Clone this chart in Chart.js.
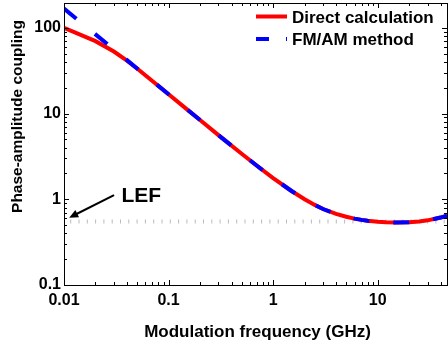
<!DOCTYPE html>
<html>
<head>
<meta charset="utf-8">
<script src="https://cdn.jsdelivr.net/npm/chart.js@4"></script>
<style>
  html, body { margin: 0; padding: 0; background: #fff; }
  #wrap { width: 448px; height: 345px; }
</style>
</head>
<body>
<div id="wrap"><canvas id="chart" width="448" height="345"></canvas></div>
<script>
// ---- data ----
const freq = [0.01, 0.02, 0.03, 0.04, 0.05, 0.07, 0.1, 0.15, 0.2, 0.3, 0.5, 0.7, 1, 1.5, 2, 2.5, 3, 4, 5, 6, 7, 8, 10, 12, 15, 20, 25, 30, 40, 46];
const direct = [100, 70, 53, 41.5, 33.6, 24, 16.8, 11.2, 8.4, 5.6, 3.4, 2.46, 1.77, 1.25, 1.0, 0.86, 0.77, 0.675, 0.625, 0.595, 0.575, 0.562, 0.547, 0.539, 0.535, 0.538, 0.551, 0.568, 0.612, 0.645];
const fmam = [168, 84, 56, 42, 33.6, 24, 16.8, 11.2, 8.4, 5.6, 3.4, 2.46, 1.77, 1.25, 1.0, 0.86, 0.77, 0.675, 0.625, 0.595, 0.575, 0.562, 0.547, 0.539, 0.535, 0.538, 0.551, 0.568, 0.612, 0.645];
const lefFreq = [0.01, 46];
const lefValue = [0.55, 0.55];
const xTickLabels = ['0.01', '0.1', '1', '10'];
const yTickLabels = ['0.1', '1', '10', '100'];
const seriesNames = ['Direct calculation', 'FM/AM method'];

const FONT = "'Liberation Sans', Arial, sans-serif";

function toPoints(xs, ys) {
    return xs.map((x, i) => ({ x: x, y: ys[i] }));
}

function labelFor(list) {
    return function(value) {
        const s = String(value);
        return list.indexOf(s) >= 0 ? s : null;
    };
}

// minor/major values for a log axis between min and max
function logTickValues(min, max) {
    const out = [];
    for (let e = Math.floor(Math.log10(min)); e <= Math.ceil(Math.log10(max)); e++) {
        for (let m = 1; m <= 9; m++) {
            const v = m * Math.pow(10, e);
            if (v >= min * 0.999 && v <= max * 1.001) out.push({ v: v, major: m === 1 });
        }
    }
    return out;
}

// frame, inward ticks, titles, legend and the LEF arrow
const decorPlugin = {
    id: 'decor',
    afterDatasetsDraw(chart) {
        const ctx = chart.ctx;
        const a = chart.chartArea;
        const xs = chart.scales.x;
        const ys = chart.scales.y;
        ctx.save();

        // box
        ctx.strokeStyle = '#000';
        ctx.lineWidth = 1;
        ctx.strokeRect(a.left + 0.5, a.top + 0.5, a.right - a.left, a.bottom - a.top);

        // ticks pointing inside
        ctx.beginPath();
        logTickValues(xs.min, xs.max).forEach(t => {
            const px = Math.round(xs.getPixelForValue(t.v)) + 0.5;
            const len = t.major ? 5 : 3;
            ctx.moveTo(px, a.bottom); ctx.lineTo(px, a.bottom - len);
            ctx.moveTo(px, a.top); ctx.lineTo(px, a.top + len);
        });
        logTickValues(ys.min, ys.max).forEach(t => {
            const py = Math.round(ys.getPixelForValue(t.v)) + 0.5;
            const len = t.major ? 5 : 3;
            ctx.moveTo(a.left, py); ctx.lineTo(a.left + len, py);
            ctx.moveTo(a.right, py); ctx.lineTo(a.right - len, py);
        });
        ctx.stroke();

        // axis titles
        ctx.fillStyle = '#000';
        ctx.font = 'bold 17px ' + FONT;
        ctx.textAlign = 'center';
        ctx.textBaseline = 'alphabetic';
        ctx.fillText('Modulation frequency (GHz)', 257.5, 336.5);

        ctx.save();
        ctx.translate(21.5, 116.5);
        ctx.rotate(-Math.PI / 2);
        ctx.font = 'bold 15.5px ' + FONT;
        ctx.fillText('Phase-amplitude coupling', 0, 0);
        ctx.restore();

        // legend
        ctx.textAlign = 'left';
        ctx.font = 'bold 17px ' + FONT;
        ctx.lineWidth = 4;
        ctx.lineCap = 'butt';
        ctx.strokeStyle = '#ff0000';
        ctx.beginPath(); ctx.moveTo(256, 16.5); ctx.lineTo(287, 16.5); ctx.stroke();
        ctx.fillText(seriesNames[0], 292, 22.5);
        ctx.strokeStyle = '#0000ff';
        ctx.setLineDash([13, 17]);
        ctx.beginPath(); ctx.moveTo(256, 39); ctx.lineTo(287, 39); ctx.stroke();
        ctx.setLineDash([]);
        ctx.fillText(seriesNames[1], 292, 44.5);

        // LEF label and arrow
        ctx.font = 'bold 21px ' + FONT;
        ctx.fillText('LEF', 121.5, 201.5);
        const x0 = xs.getPixelForValue(0.0301), y0 = ys.getPixelForValue(1.12);
        const x1 = xs.getPixelForValue(0.0112), y1 = ys.getPixelForValue(0.61);
        const ang = Math.atan2(y1 - y0, x1 - x0);
        ctx.strokeStyle = '#000';
        ctx.lineWidth = 2;
        ctx.beginPath();
        ctx.moveTo(x0, y0);
        ctx.lineTo(x1 - 6 * Math.cos(ang), y1 - 6 * Math.sin(ang));
        ctx.stroke();
        ctx.fillStyle = '#000';
        ctx.beginPath();
        ctx.moveTo(x1, y1);
        ctx.lineTo(x1 - 9 * Math.cos(ang) + 4 * Math.sin(ang), y1 - 9 * Math.sin(ang) - 4 * Math.cos(ang));
        ctx.lineTo(x1 - 9 * Math.cos(ang) - 4 * Math.sin(ang), y1 - 9 * Math.sin(ang) + 4 * Math.cos(ang));
        ctx.closePath();
        ctx.fill();

        ctx.restore();
    }
};

const tickFont = { family: FONT, size: 16, weight: 'bold' };

new Chart(document.getElementById('chart'), {
    type: 'line',
    data: {
        datasets: [
            {
                label: seriesNames[1],
                data: toPoints(freq, fmam),
                borderColor: '#0000ff',
                borderWidth: 4,
                borderDash: [16, 24],
                borderCapStyle: 'butt',
                pointRadius: 0,
                tension: 0
            },
            {
                label: seriesNames[0],
                data: toPoints(freq, direct),
                borderColor: '#ff0000',
                borderWidth: 4,
                pointRadius: 0,
                tension: 0
            },
            {
                label: 'LEF',
                data: toPoints(lefFreq, lefValue),
                borderColor: '#bbbbbb',
                borderWidth: 4,
                borderDash: [1, 7.3],
                borderDashOffset: 2.1,
                borderCapStyle: 'butt',
                pointRadius: 0
            }
        ]
    },
    options: {
        responsive: false,
        animation: false,
        layout: { padding: { top: 3, right: 1, left: 0, bottom: 0 } },
        plugins: {
            legend: { display: false },
            tooltip: { enabled: false }
        },
        scales: {
            x: {
                type: 'logarithmic',
                min: 0.01,
                max: 46,
                grid: { display: false, drawTicks: false },
                border: { display: false },
                ticks: {
                    autoSkip: false,
                    maxRotation: 0,
                    padding: 6,
                    color: '#000',
                    font: tickFont,
                    callback: labelFor(xTickLabels)
                },
                afterFit: scale => {
                    scale.height = 60;
                    scale.paddingLeft = 0;
                    scale.paddingRight = 0;
                }
            },
            y: {
                type: 'logarithmic',
                min: 0.1,
                max: 195,
                grid: { display: false, drawTicks: false },
                border: { display: false },
                ticks: {
                    autoSkip: false,
                    padding: 3,
                    color: '#000',
                    font: tickFont,
                    callback: labelFor(yTickLabels)
                },
                afterFit: scale => {
                    scale.width = 64;
                    scale.paddingTop = 0;
                    scale.paddingBottom = 0;
                }
            }
        }
    },
    plugins: [decorPlugin]
});
</script>
</body>
</html>
